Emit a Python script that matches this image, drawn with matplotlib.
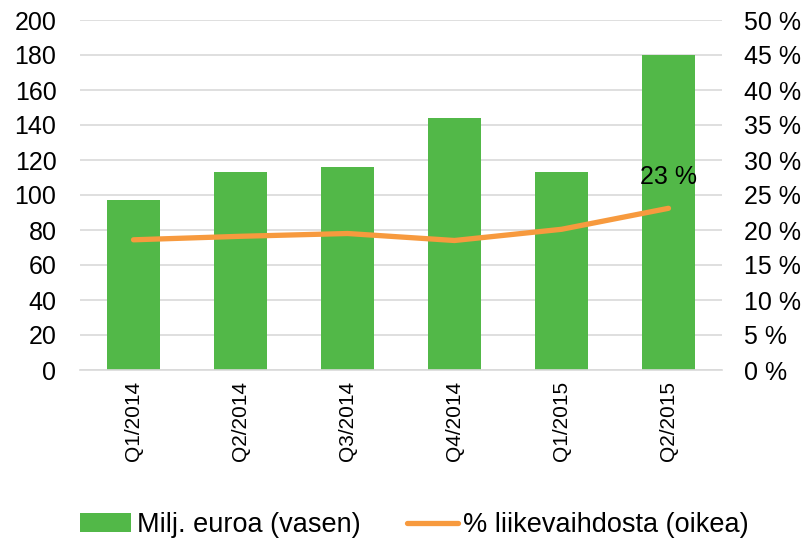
import matplotlib.pyplot as plt
import numpy as np

plt.rcParams['font.family'] = ['Liberation Sans', 'DejaVu Sans']

quarters = ['Q1/2014', 'Q2/2014', 'Q3/2014', 'Q4/2014', 'Q1/2015', 'Q2/2015']
meur = [97, 113, 116, 144, 113, 180]
pct = [18.6, 19.1, 19.5, 18.5, 20.1, 23.1]

green = '#52b848'
orange = '#f79a3e'

fig = plt.figure(figsize=(8.08, 5.43), dpi=100)
ax = fig.add_axes([80/808, 1 - 370/543, 642/808, 350/543])
x = np.arange(len(quarters))
ax.bar(x, meur, width=0.5, color=green, zorder=2, label='Milj. euroa (vasen)')
ax.set_ylim(0, 200)
ax.set_yticks(range(0, 201, 20))
ax.set_xlim(-0.5, len(quarters) - 0.5)
ax.set_xticks(x)
ax.set_xticklabels(quarters, rotation=90, fontsize=15)
ax.tick_params(axis='y', labelsize=18, length=0, pad=17)
ax.tick_params(axis='x', length=0, pad=8)
ax.grid(axis='y', color='#d9d9d9', linewidth=1.2, zorder=0)
for s in ['top', 'right', 'left']:
    ax.spines[s].set_visible(False)
ax.spines['bottom'].set_color('#d9d9d9')
ax.spines['bottom'].set_linewidth(1.2)

ax2 = ax.twinx()
ax2.plot(x, pct, color=orange, linewidth=3.8, solid_capstyle='round', label='% liikevaihdosta (oikea)')
ax2.set_ylim(0, 50)
ax2.set_yticks(range(0, 51, 5))
ax2.set_yticklabels([f'{v} %' for v in range(0, 51, 5)])
ax2.tick_params(axis='y', labelsize=18, length=0, pad=16)
for s in ['top', 'right', 'left', 'bottom']:
    ax2.spines[s].set_visible(False)
ax2.annotate(f'{round(pct[-1])} %', (x[-1], pct[-1]), xytext=(0, 14), textcoords='offset points',
             ha='center', va='bottom', fontsize=18)

h1, l1 = ax.get_legend_handles_labels()
h2, l2 = ax2.get_legend_handles_labels()
fig.legend(h1 + h2, l1 + l2, loc='center', bbox_to_anchor=(0.513, 1 - 525/543), ncol=2,
           frameon=False, fontsize=19.5, handlelength=1.9, handletextpad=0.2, columnspacing=1.7)

fig.savefig('out.png', dpi=100)
